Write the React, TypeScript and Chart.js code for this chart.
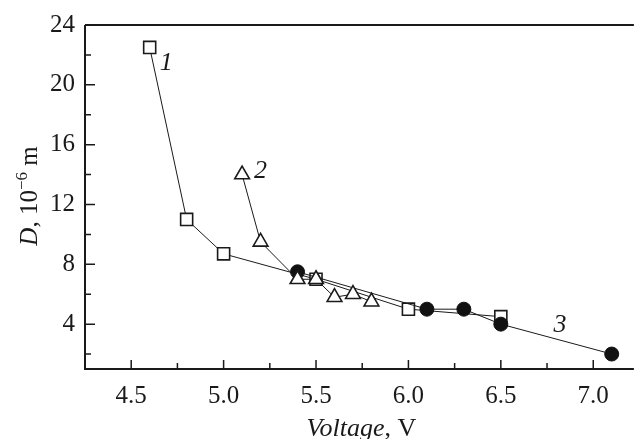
import React, { useEffect, useRef } from "react";
import { Chart, registerables } from "chart.js";

Chart.register(...registerables);

const xValues1 = [4.6, 4.8, 5.0, 5.5, 6.0, 6.5];
const series1 = [22.5, 11.0, 8.7, 7.0, 5.0, 4.5];
const xValues2 = [5.1, 5.2, 5.4, 5.5, 5.6, 5.7, 5.8];
const series2 = [14.0, 9.5, 7.0, 7.0, 5.8, 6.0, 5.5];
const xValues3 = [5.4, 6.1, 6.3, 6.5, 7.1];
const series3 = [7.5, 5.0, 5.0, 4.0, 2.0];

const xTicks = [4.5, 5.0, 5.5, 6.0, 6.5, 7.0];
const xMinorTicks = [4.75, 5.25, 5.75, 6.25, 6.75];
const yTicks = [4, 8, 12, 16, 20, 24];
const yMinorTicks = [2, 6, 10, 14, 18, 22];

const seriesLabels = ["1", "2", "3"];
const seriesLabelX = [4.69, 5.2, 6.82];
const seriesLabelY = [21.45, 14.25, 3.9];

const FONT = '"Liberation Serif", serif';
const INK = "#1a1a1a";

function pts(xs: number[], ys: number[]) {
  return xs.map((x, i) => ({ x, y: ys[i] }));
}

function drawParts(ctx: CanvasRenderingContext2D, parts: any[], size: number) {
  const widths = parts.map((p) => {
    ctx.font = `${p.italic ? "italic " : ""}${p.sup ? size * 0.68 : size}px ${FONT}`;
    return ctx.measureText(p.text).width;
  });
  const total = widths.reduce((a, b) => a + b, 0);
  let cx = -total / 2;
  parts.forEach((p, i) => {
    ctx.font = `${p.italic ? "italic " : ""}${p.sup ? size * 0.68 : size}px ${FONT}`;
    ctx.fillText(p.text, cx, p.sup ? -size * 0.4 : 0);
    cx += widths[i];
  });
}

const framePlugin = {
  id: "frame",
  afterDraw(chart: any) {
    const { ctx, chartArea, scales } = chart;
    const { left, right, top, bottom } = chartArea;
    ctx.save();
    ctx.strokeStyle = INK;
    ctx.lineWidth = 2;
    ctx.beginPath();
    ctx.moveTo(left, top);
    ctx.lineTo(left, bottom);
    ctx.lineTo(right, bottom);
    ctx.moveTo(left, top);
    ctx.lineTo(right, top);
    ctx.stroke();
    ctx.lineWidth = 1.5;
    ctx.beginPath();
    xTicks.forEach((v) => {
      const px = scales.x.getPixelForValue(v);
      ctx.moveTo(px, bottom);
      ctx.lineTo(px, bottom - 9);
    });
    xMinorTicks.forEach((v) => {
      const px = scales.x.getPixelForValue(v);
      ctx.moveTo(px, bottom);
      ctx.lineTo(px, bottom - 6);
    });
    yTicks.forEach((v) => {
      const py = scales.y.getPixelForValue(v);
      ctx.moveTo(left, py);
      ctx.lineTo(left + 10, py);
    });
    yMinorTicks.forEach((v) => {
      const py = scales.y.getPixelForValue(v);
      ctx.moveTo(left, py);
      ctx.lineTo(left + 6, py);
    });
    ctx.stroke();

    ctx.fillStyle = INK;
    ctx.textBaseline = "alphabetic";
    ctx.textAlign = "left";
    ctx.save();
    ctx.translate((left + right) / 2 + 2, 436);
    drawParts(ctx, [{ text: "Voltage", italic: true }, { text: ", V" }], 26);
    ctx.restore();
    ctx.save();
    ctx.translate(37, (top + bottom) / 2 - 1);
    ctx.rotate(-Math.PI / 2);
    drawParts(
      ctx,
      [{ text: "D", italic: true }, { text: ", 10" }, { text: "\u22126", sup: true }, { text: " m" }],
      25
    );
    ctx.restore();
    ctx.font = `italic 26px ${FONT}`;
    ctx.textAlign = "center";
    ctx.textBaseline = "middle";
    seriesLabels.forEach((t, i) => {
      ctx.fillText(t, scales.x.getPixelForValue(seriesLabelX[i]), scales.y.getPixelForValue(seriesLabelY[i]));
    });
    ctx.restore();
  },
};

export default function App() {
  const ref = useRef<HTMLCanvasElement>(null);
  useEffect(() => {
    document.body.style.margin = "0";
    const chart = new Chart(ref.current as HTMLCanvasElement, {
      type: "scatter",
      data: {
        datasets: [
          {
            data: pts(xValues1, series1),
            showLine: true,
            borderColor: INK,
            borderWidth: 1,
            pointStyle: "rect",
            pointRadius: 8.5,
            pointBackgroundColor: "#fff",
            pointBorderColor: INK,
            pointBorderWidth: 1.6,
            order: 3,
          },
          {
            data: pts(xValues2, series2),
            showLine: true,
            borderColor: INK,
            borderWidth: 1,
            pointStyle: "triangle",
            pointRadius: 8.5,
            pointBackgroundColor: "#fff",
            pointBorderColor: INK,
            pointBorderWidth: 1.6,
            order: 1,
          },
          {
            data: pts(xValues3, series3),
            showLine: true,
            borderColor: INK,
            borderWidth: 1,
            pointStyle: "circle",
            pointRadius: 7,
            pointBackgroundColor: "#111",
            pointBorderColor: "#111",
            pointBorderWidth: 1,
            order: 2,
          },
        ],
      } as any,
      options: {
        responsive: false,
        animation: false,
        layout: { padding: { top: 24, right: 0, left: 0, bottom: 0 } },
        plugins: { legend: { display: false }, tooltip: { enabled: false } },
        scales: {
          x: {
            type: "linear",
            min: 4.25,
            max: 7.22,
            grid: { display: false, drawTicks: false },
            border: { display: false },
            afterBuildTicks: (s: any) => {
              s.ticks = xTicks.map((v) => ({ value: v }));
            },
            afterFit: (s: any) => {
              s.height = 70;
            },
            ticks: {
              padding: 12,
              color: INK,
              font: { family: FONT, size: 25 },
              callback: (v: any) => Number(v).toFixed(1),
            },
          },
          y: {
            type: "linear",
            min: 1,
            max: 24,
            grid: { display: false, drawTicks: false },
            border: { display: false },
            afterBuildTicks: (s: any) => {
              s.ticks = yTicks.map((v) => ({ value: v }));
            },
            afterFit: (s: any) => {
              s.width = 85;
            },
            ticks: {
              padding: 10,
              color: INK,
              font: { family: FONT, size: 25 },
              callback: (v: any) => String(v),
            },
          },
        },
      },
      plugins: [framePlugin],
    });
    return () => chart.destroy();
  }, []);
  return (
    <div style={{ width: 644, height: 439 }}>
      <canvas ref={ref} width={644} height={439} />
    </div>
  );
}
